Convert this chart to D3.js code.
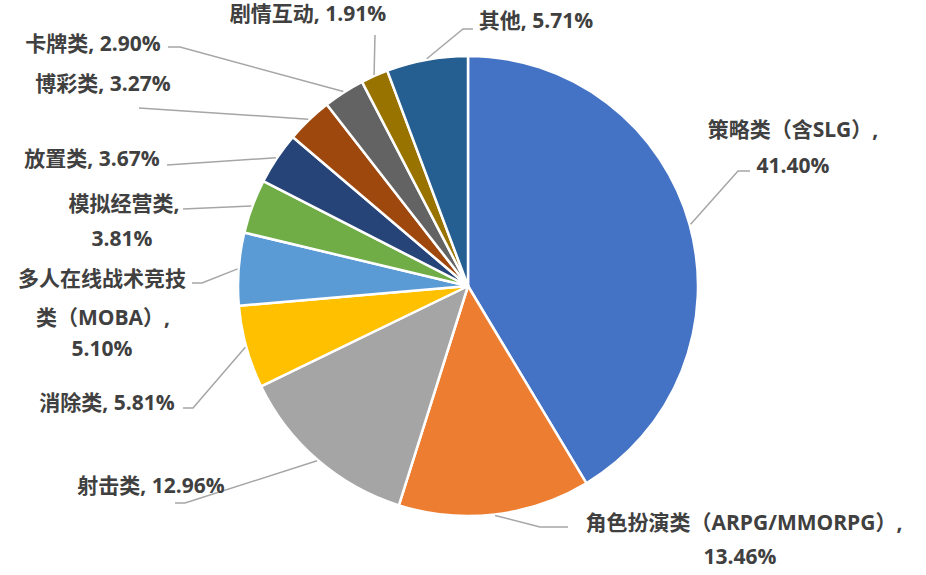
<!DOCTYPE html>
<html>
<head>
<meta charset="utf-8">
<script src="https://cdn.jsdelivr.net/npm/d3@7"></script>
<style>
  html, body { margin: 0; padding: 0; background: #fff; }
  svg text { font-family: "Open Sans", "Noto Sans CJK SC", sans-serif; font-weight: bold; fill: #404040; }
</style>
</head>
<body>
<svg id="chart" width="926" height="575"></svg>
<script>
// game genre share, clockwise from 12 o'clock
var categories = ['策略类（含SLG）', '角色扮演类（ARPG/MMORPG）', '射击类', '消除类',
    '多人在线战术竞技类（MOBA）', '模拟经营类', '放置类', '博彩类', '卡牌类', '剧情互动', '其他'];
var shares = [41.40, 13.46, 12.96, 5.81, 5.10, 3.81, 3.67, 3.27, 2.90, 1.91, 5.71];
var colors = ['#4472C4', '#ED7D31', '#A5A5A5', '#FFC000', '#5B9BD5', '#70AD47',
    '#264478', '#9E480E', '#636363', '#997300', '#255E91'];

// label placement (line centres, leader elbow + end)
var labelLayout = [
    {lines: [[793, 129], [793, 165]], pctLine: true, elbow: [738, 171], end: [750, 171]},
    {lines: [[744, 522], [740, 556]], pctLine: true, elbow: [540, 527], end: [568, 527]},
    {lines: [[151, 485]], elbow: [185, 503], end: [175, 503]},
    {lines: [[107, 402]], elbow: [193, 408], end: [183, 408]},
    {lines: [[102, 278], [103, 317], [102, 348]], pctLine: true, nameBreak: 8, elbow: [202, 283], end: [192, 283]},
    {lines: [[124, 203], [122, 238]], pctLine: true, end: [183, 209]},
    {lines: [[92, 158]], end: [167, 165]},
    {lines: [[103, 83]], end: [139, 108]},
    {lines: [[93, 43]], elbow: [180, 47], end: [168, 47]},
    {lines: [[308, 13]], end: [375, 35]},
    {lines: [[536, 20]], elbow: [463, 29], end: [473, 29]}
];

var svg = d3.select('#chart');
var cx = 468, cy = 286, radius = 230;

var chartG = svg.append('g')
    .attr('transform', 'translate(' + [cx, cy] + ')');

var data = categories.map(function(c, i) {
    return {name: c, value: shares[i], color: colors[i], layout: labelLayout[i]};
});

var pie = d3.pie().sort(null).value(d => d.value);
var arc = d3.arc().innerRadius(0).outerRadius(radius);
var edgeArc = d3.arc().innerRadius(radius + 1).outerRadius(radius + 1);
var fmt = d3.format('.2f');

var slices = pie(data);

chartG.selectAll('path.slice').data(slices)
    .enter()
    .append('path')
    .attr('class', 'slice')
    .attr('d', arc)
    .attr('fill', d => d.data.color)
    .attr('stroke', '#fff')
    .attr('stroke-width', 2.5)
    .attr('stroke-linejoin', 'round');

// leader lines from slice edge to label
var line = d3.line();
svg.selectAll('path.leader').data(slices)
    .enter()
    .append('path')
    .attr('class', 'leader')
    .attr('fill', 'none')
    .attr('stroke', '#A6A6A6')
    .attr('stroke-width', 1.5)
    .attr('d', function(d) {
        var p = edgeArc.centroid(d);
        var pts = [[p[0] + cx, p[1] + cy]];
        if (d.data.layout.elbow) pts.push(d.data.layout.elbow);
        pts.push(d.data.layout.end);
        return line(pts);
    });

function labelLines(d) {
    var L = d.data.layout;
    var pct = fmt(d.data.value) + '%';
    if (!L.pctLine) return [d.data.name + ', ' + pct];
    var parts = L.nameBreak ? [d.data.name.slice(0, L.nameBreak), d.data.name.slice(L.nameBreak)] : [d.data.name];
    parts[parts.length - 1] += ',';
    parts.push(pct);
    return parts;
}

var labels = svg.selectAll('g.label').data(slices)
    .enter()
    .append('g')
    .attr('class', 'label');

labels.each(function(d) {
    var g = d3.select(this);
    var texts = labelLines(d);
    texts.forEach(function(t, i) {
        var pos = d.data.layout.lines[i];
        g.append('text')
            .attr('x', pos[0])
            .attr('y', pos[1])
            .attr('text-anchor', 'middle')
            .attr('dominant-baseline', 'central')
            .style('font-size', '21px')
            .text(t);
    });
});
</script>
</body>
</html>
